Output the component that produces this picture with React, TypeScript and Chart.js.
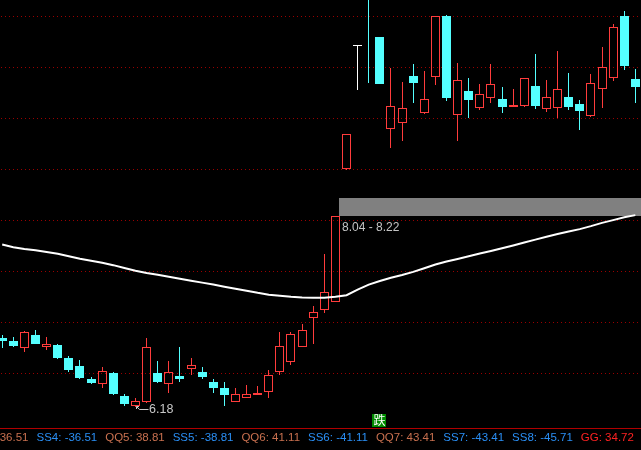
import React, { useEffect, useRef } from "react";
import { Chart, registerables } from "chart.js";

Chart.register(...registerables);

// ---- data (prices) ----
const OPEN: (number | null)[] = [
  6.85, 6.82, 6.76, 6.87, 6.77, 6.78, 6.65, 6.57, 6.44, 6.40,
  6.50, 6.28, 6.19, 6.23, 6.50, 6.40, 6.47, 6.55, 6.51, 6.41,
  6.36, 6.23, 6.27, 6.30, 6.33, 6.52, 6.62, 6.77, 7.05, 7.13,
  7.21, 8.51, 9.72, null, 9.79, 8.90, 8.96, 9.41, 9.06, 9.41,
  10.00, 9.04, 9.26, 9.11, 9.21, 9.19, 9.12, 9.13, 9.31, 9.10,
  9.11, 9.21, 9.14, 9.03, 9.29, 9.40, 10.00, 9.38,
];
const HIGH: number[] = [
  6.87, 6.86, 6.91, 6.92, 6.86, 6.79, 6.67, 6.63, 6.46, 6.56,
  6.51, 6.30, 6.26, 6.85, 6.62, 6.62, 6.76, 6.65, 6.56, 6.44,
  6.41, 6.36, 6.39, 6.38, 6.53, 6.90, 6.90, 6.98, 7.16, 7.67,
  8.04, 8.84, 9.72, 10.40, 9.79, 9.49, 9.35, 9.53, 9.46, 10.00,
  10.01, 9.54, 9.39, 9.33, 9.53, 9.30, 9.28, 9.39, 9.63, 9.37,
  9.66, 9.44, 9.18, 9.43, 9.70, 9.92, 10.05, 9.48,
];
const LOW: number[] = [
  6.76, 6.77, 6.72, 6.80, 6.74, 6.65, 6.52, 6.45, 6.40, 6.37,
  6.30, 6.19, 6.18, 6.22, 6.41, 6.32, 6.42, 6.49, 6.45, 6.32,
  6.19, 6.23, 6.27, 6.30, 6.27, 6.49, 6.59, 6.77, 6.80, 7.10,
  7.21, 8.50, 9.28, 9.35, 9.34, 8.72, 8.78, 9.16, 9.05, 9.33,
  9.18, 8.78, 9.01, 9.09, 9.16, 9.06, 9.12, 9.12, 9.10, 9.07,
  9.01, 9.09, 8.89, 9.02, 9.11, 9.37, 9.48, 9.16,
];
const CLOSE: (number | null)[] = [
  6.83, 6.78, 6.90, 6.80, 6.79, 6.66, 6.54, 6.46, 6.41, 6.52,
  6.31, 6.21, 6.23, 6.76, 6.42, 6.51, 6.45, 6.58, 6.47, 6.37,
  6.30, 6.30, 6.30, 6.31, 6.48, 6.77, 6.88, 6.92, 7.10, 7.30,
  8.04, 8.84, 9.72, null, 9.34, 9.12, 9.10, 9.35, 9.19, 10.00,
  9.21, 9.37, 9.19, 9.24, 9.33, 9.12, 9.13, 9.39, 9.13, 9.21,
  9.28, 9.12, 9.08, 9.34, 9.50, 9.89, 9.52, 9.31,
];
const MA: number[] = [
  7.761, 7.735, 7.718, 7.704, 7.688, 7.671, 7.647, 7.621, 7.603, 7.583,
  7.559, 7.531, 7.505, 7.482, 7.465, 7.445, 7.425, 7.407, 7.388, 7.369,
  7.348, 7.328, 7.309, 7.288, 7.270, 7.260, 7.250, 7.243, 7.240, 7.240,
  7.250, 7.265, 7.319, 7.368, 7.404, 7.436, 7.463, 7.493, 7.529, 7.566,
  7.595, 7.620, 7.647, 7.673, 7.698, 7.725, 7.752, 7.781, 7.809, 7.837,
  7.864, 7.889, 7.912, 7.941, 7.973, 8.000, 8.029, 8.049,
];
const GRID_LEVELS = [6.5, 7.0, 7.5, 8.0, 8.5, 9.0, 9.5, 10.0];
const GAP_FROM_INDEX = 30;
const GAP_LOW = 8.04;
const GAP_HIGH = 8.22;
const SIGNAL_INDEX = 34;
const SIGNAL_TEXT = "跌";
const LEGEND_LABELS = ["QQ4", "SS4", "QQ5", "SS5", "QQ6", "SS6", "QQ7", "SS7", "SS8", "GG"];
const LEGEND_VALUES = [36.51, -36.51, 38.81, -38.81, 41.11, -41.11, 43.41, -43.41, -45.71, 34.72];

// ---- styles ----
const UP = "#ff3c3c";
const DOWN = "#54ffff";
const FLAT = "#ffffff";
const GRID = "#9a0000";
const LEGEND_COLORS: Record<string, string> = { QQ: "#c8704f", SS: "#2a8ff5", GG: "#ff2222" };
const FONT = "'Liberation Sans', Arial, sans-serif";

const stockPlugin = {
  id: "stockPlugin",
  beforeDraw(chart: any) {
    const ctx = chart.ctx;
    ctx.save();
    ctx.fillStyle = "#000";
    ctx.fillRect(0, 0, chart.width, chart.height);
    ctx.restore();
  },
  beforeDatasetsDraw(chart: any) {
    const { ctx, chartArea } = chart;
    const x = chart.scales.x;
    const y = chart.scales.y;
    ctx.save();
    // dotted grid lines
    ctx.fillStyle = GRID;
    for (const lv of GRID_LEVELS) {
      const yy = Math.round(y.getPixelForValue(lv));
      for (let px = chartArea.left + 1; px < chartArea.right; px += 4) ctx.fillRect(px, yy, 1, 1);
    }
    // gap box
    const gx = Math.floor(x.getPixelForValue(GAP_FROM_INDEX)) + 4;
    const gt = Math.round(y.getPixelForValue(GAP_HIGH));
    const gb = Math.round(y.getPixelForValue(GAP_LOW));
    ctx.fillStyle = "#808080";
    ctx.fillRect(gx, gt, chartArea.right - gx, gb - gt);

    // candles
    ctx.beginPath();
    ctx.rect(chartArea.left, chartArea.top, chartArea.width, chartArea.height);
    ctx.clip();
    for (let i = 0; i < HIGH.length; i++) {
      const xc = Math.floor(x.getPixelForValue(i));
      const yh = Math.round(y.getPixelForValue(HIGH[i]));
      const yl = Math.round(y.getPixelForValue(LOW[i]));
      const o = OPEN[i];
      const c = CLOSE[i];
      if (o === null || c === null) {
        ctx.fillStyle = DOWN;
        ctx.fillRect(xc, yh, 1, yl - yh + 1);
        continue;
      }
      const yo = Math.round(y.getPixelForValue(o));
      const yc = Math.round(y.getPixelForValue(c));
      if (c > o) {
        ctx.fillStyle = UP;
        ctx.strokeStyle = UP;
        ctx.lineWidth = 1;
        const top = yc;
        const bot = yo;
        if (top > yh) ctx.fillRect(xc, yh, 1, top - yh);
        if (yl > bot) ctx.fillRect(xc, bot + 1, 1, yl - bot);
        ctx.strokeRect(xc - 4 + 0.5, top + 0.5, 8, Math.max(1, bot - top));
      } else if (c < o) {
        ctx.fillStyle = DOWN;
        ctx.fillRect(xc, yh, 1, yl - yh + 1);
        ctx.fillRect(xc - 4, yo, 9, Math.max(1, yc - yo + 1));
      } else {
        ctx.fillStyle = FLAT;
        ctx.fillRect(xc, yh, 1, yl - yh + 1);
        ctx.fillRect(xc - 4, yo, 9, 1);
      }
    }
    ctx.restore();
  },
  afterDraw(chart: any) {
    const { ctx, chartArea } = chart;
    const x = chart.scales.x;
    const y = chart.scales.y;
    ctx.save();

    // gap label
    const gx = Math.floor(x.getPixelForValue(GAP_FROM_INDEX)) + 4;
    const gb = Math.round(y.getPixelForValue(GAP_LOW));
    ctx.font = `12px ${FONT}`;
    ctx.fillStyle = "#c4c4c4";
    ctx.textBaseline = "alphabetic";
    ctx.textAlign = "left";
    ctx.fillText(`${GAP_LOW.toFixed(2)} - ${GAP_HIGH.toFixed(2)}`, gx + 3, gb + 15);

    // lowest low mark
    let mi = 0;
    for (let i = 1; i < LOW.length; i++) if (LOW[i] < LOW[mi]) mi = i;
    const ax = Math.floor(x.getPixelForValue(mi)) + 1;
    const ay = Math.round(y.getPixelForValue(LOW[mi]));
    ctx.strokeStyle = "#c8c8c8";
    ctx.lineWidth = 1;
    ctx.beginPath();
    ctx.moveTo(ax + 0.5, ay + 0.5);
    ctx.lineTo(ax + 3.5, ay + 3.5);
    ctx.lineTo(ax + 12.5, ay + 3.5);
    ctx.moveTo(ax + 0.5, ay + 0.5);
    ctx.lineTo(ax + 0.5, ay + 3);
    ctx.moveTo(ax + 0.5, ay + 0.5);
    ctx.lineTo(ax + 3, ay + 0.5);
    ctx.stroke();
    ctx.fillStyle = "#c8c8c8";
    ctx.font = `12.5px ${FONT}`;
    ctx.fillText(LOW[mi].toFixed(2), ax + 13, ay + 7);

    // bottom separator
    ctx.fillStyle = "#b00000";
    ctx.fillRect(0, chartArea.bottom, chart.width, 1);

    // signal marker
    const sx = Math.floor(x.getPixelForValue(SIGNAL_INDEX));
    ctx.fillStyle = "#008a00";
    ctx.fillRect(sx - 7, chartArea.bottom - 14, 14, 13);
    ctx.fillStyle = "#ffffff";
    ctx.font = "12px 'Noto Sans CJK SC', sans-serif";
    ctx.textAlign = "center";
    ctx.textBaseline = "middle";
    ctx.fillText(SIGNAL_TEXT, sx + 0.5, chartArea.bottom - 7.5);

    // indicator legend row
    ctx.font = `11.5px ${FONT}`;
    ctx.textAlign = "left";
    ctx.textBaseline = "alphabetic";
    const items = LEGEND_LABELS.map((l, i) => `${l}: ${LEGEND_VALUES[i].toFixed(2)}`);
    const widths = items.map((t) => ctx.measureText(t).width);
    const gap = 8;
    let cx = 28.5 - widths[0];
    items.forEach((t, i) => {
      ctx.fillStyle = LEGEND_COLORS[LEGEND_LABELS[i].slice(0, 2)];
      ctx.fillText(t, cx, chartArea.bottom + 12.5);
      cx += widths[i] + gap;
    });
    ctx.restore();
  },
};

export default function App() {
  const ref = useRef<HTMLCanvasElement | null>(null);
  useEffect(() => {
    if (!ref.current) return;
    const chart = new Chart(ref.current, {
      type: "line",
      data: {
        datasets: [
          {
            label: "MA",
            data: MA.map((v, i) => ({ x: i, y: v })),
            borderColor: "#ffffff",
            borderWidth: 2,
            pointRadius: 0,
            tension: 0,
            fill: false,
          },
        ],
      },
      options: {
        animation: false,
        responsive: false,
        maintainAspectRatio: false,
        devicePixelRatio: 1,
        layout: { padding: { left: 0, right: 0, top: 0, bottom: 22 } },
        scales: {
          x: { type: "linear", min: -0.198, max: 57.51, display: false },
          y: { type: "linear", min: 5.964, max: 10.156, display: false },
        },
        plugins: { legend: { display: false }, tooltip: { enabled: false } },
      },
      plugins: [stockPlugin],
    } as any);
    return () => chart.destroy();
  }, []);
  return (
    <div style={{ position: "fixed", left: 0, top: 0, width: 641, height: 450, background: "#000" }}>
      <canvas ref={ref} width={641} height={450} style={{ display: "block", width: 641, height: 450 }} />
    </div>
  );
}
